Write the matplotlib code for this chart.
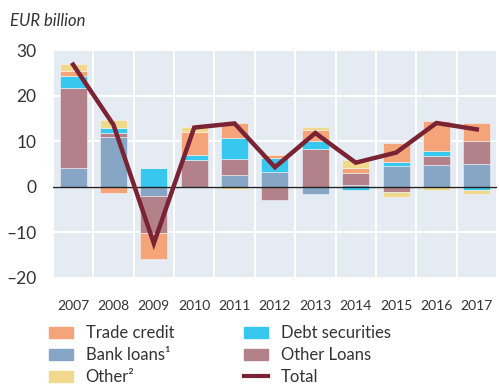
import numpy as np
import matplotlib.pyplot as plt
from matplotlib.patches import Patch
from matplotlib.lines import Line2D

years = ['2007', '2008', '2009', '2010', '2011', '2012', '2013', '2014', '2015', '2016', '2017']

# values in EUR billion
bank_loans = [4.1, 11.0, -2.0, 0.0, 2.6, 3.3, -1.5, 0.5, 4.6, 4.8, 5.1]
other_loans = [17.5, 0.7, -8.2, 5.9, 3.6, -2.8, 8.4, 2.6, -1.1, 2.0, 5.0]
debt_securities = [2.8, 1.2, 4.1, 1.1, 4.4, 3.1, 1.7, -0.6, 0.8, 1.1, -0.6]
trade_credit = [1.1, -1.4, -5.7, 5.0, 3.5, 0.5, 2.4, 1.1, 4.2, 6.6, 3.9]
other = [1.5, 1.8, 0.0, 1.2, -0.5, 0.3, 0.7, 1.7, -1.2, -0.7, -0.9]
total = [26.8, 13.6, -12.4, 13.0, 13.9, 4.3, 11.8, 5.3, 7.5, 14.0, 12.6]

series = [
    ('Bank loans¹', bank_loans, '#87a6c6'),
    ('Other Loans', other_loans, '#b3818a'),
    ('Debt securities', debt_securities, '#38c7ee'),
    ('Trade credit', trade_credit, '#f4a478'),
    ('Other²', other, '#f0d88c'),
]

plt.rcParams['font.family'] = ['Lato', 'DejaVu Sans']

fig = plt.figure(figsize=(4.99, 3.85), dpi=100)
ax = fig.add_axes([0.106, 0.278, 0.89, 0.592])
ax.set_facecolor('#e5ebf3')

x = np.arange(len(years))
pos_base = np.zeros(len(years))
neg_base = np.zeros(len(years))
for name, vals, col in series:
    v = np.array(vals)
    bottom = np.where(v >= 0, pos_base, neg_base)
    ax.bar(x, v, 0.67, bottom=bottom, color=col, edgecolor='#f3f4f6', linewidth=0.4, zorder=2)
    pos_base = pos_base + np.where(v >= 0, v, 0)
    neg_base = neg_base + np.where(v < 0, v, 0)

ax.plot(x, total, color='#7a2335', linewidth=3.2, zorder=4, solid_joinstyle='miter')
ax.axhline(0, color='#222222', linewidth=1.0, zorder=3)

ax.set_xlim(-0.5, len(years) - 0.5)
ax.set_ylim(-20, 30)
ax.set_yticks([-20, -10, 0, 10, 20, 30])
ax.set_yticklabels(['\u201320', '\u201310', '0', '10', '20', '30'], fontsize=12.5, color='#333333')
ax.set_xticks(x)
ax.set_xticklabels(years, fontsize=10, color='#333333')
ax.set_xticks(np.arange(-0.5, len(years), 1.0), minor=True)
ax.grid(True, which='major', axis='y', color='white', linewidth=1.5, zorder=0)
ax.grid(True, which='minor', axis='x', color='white', linewidth=1.5, zorder=0)
ax.set_axisbelow(True)
ax.tick_params(which='both', length=0)
ax.tick_params(axis='x', pad=16)
ax.tick_params(axis='y', pad=12)
for s in ax.spines.values():
    s.set_visible(False)

fig.text(0.02, 0.932, 'EUR billion', fontsize=12, style='italic', color='#333333')

handles = [
    Patch(color='#f4a478', label='Trade credit'),
    Patch(color='#87a6c6', label='Bank loans¹'),
    Patch(color='#f0d88c', label='Other²'),
    Patch(color='#38c7ee', label='Debt securities'),
    Patch(color='#b3818a', label='Other Loans'),
    Line2D([0], [0], color='#7a2335', linewidth=3, label='Total'),
]
fig.legend(handles=handles, ncol=2, loc='upper left', bbox_to_anchor=(0.098, 0.155),
           frameon=False, fontsize=12, handlelength=1.45, handleheight=0.7,
           columnspacing=4.2, labelspacing=0.36, handletextpad=0.75, labelcolor='#333333',
           borderaxespad=0, borderpad=0)

fig.savefig('out.png', dpi=100)
